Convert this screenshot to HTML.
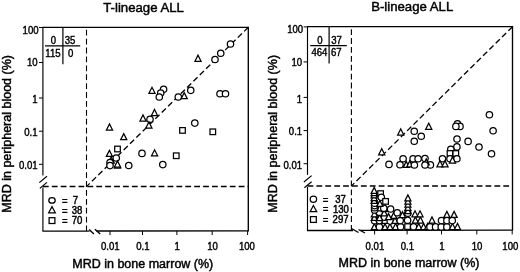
<!DOCTYPE html>
<html lang="en">
<head>
<meta charset="utf-8">
<title>MRD in peripheral blood versus bone marrow</title>
<style>
html,body{margin:0;padding:0;background:#fff;}
body{width:520px;height:272px;overflow:hidden;}
svg{display:block;font-family:"Liberation Sans",sans-serif;}
</style>
</head>
<body>
<svg width="520" height="272" viewBox="0 0 520 272">
<rect width="520" height="272" fill="#fff"/>
<g transform="translate(0 0)">
<g fill="none" stroke="#000" stroke-width="1.2" stroke-linecap="butt">
<path stroke-width="1.35" d="M42.4 27.3H248.3V230.75L96.5 231.0"/>
<path stroke-width="1.15" d="M42.9 175.5V27.3"/>
<path stroke-width="1.15" d="M42.9 187.5V231.05"/>
<path stroke-width="1.35" d="M42.4 231.05H89.5"/>
<path d="M39.3 182.6L47 176.2M39.8 188.4L47 182.4"/>
<path stroke-width="1.4" d="M89.2 229.4L93.9 234M94.9 229.2L100.2 233.9"/>
<path stroke-width="1" d="M110 231.05V235"/>
<path stroke-width="1" d="M142.5 231.05V235"/>
<path stroke-width="1" d="M176.9 231.05V235"/>
<path stroke-width="1" d="M212.2 231.05V235"/>
<path stroke-width="1" d="M247.6 231.05V235"/>
<path stroke-width="1" d="M42.9 164.3H39"/>
<path stroke-width="1" d="M42.9 131.2H39"/>
<path stroke-width="1" d="M42.9 98H39"/>
<path stroke-width="1" d="M42.9 62.5H39"/>
<path stroke-width="1" d="M42.9 27.5H39"/>
<path d="M62.9 27.3V64.2M45 45.8H80.2"/>
</g>
<g fill="none" stroke="#000" stroke-dasharray="5.8 3.1">
<path stroke-width="1.5" d="M42.9 186.6H248.3"/>
<path stroke-width="1.1" d="M86.5 29.8V231.05"/>
<path stroke-width="1.3" d="M248.3 27.3L86.5 186.6"/>
</g>
<g fill="#fff" stroke="#000" stroke-width="1.25">
<circle cx="230.5" cy="44" r="3.2"/>
<circle cx="220.75" cy="53.25" r="3.2"/>
<circle cx="215" cy="59.5" r="3.2"/>
<path d="M194.95 61.25L198 55.25L201.05 61.25Z"/>
<path d="M148.95 93.3L152 87.3L155.05 93.3Z"/>
<circle cx="163.6" cy="89.3" r="3.2"/>
<circle cx="160.7" cy="93" r="3.2"/>
<circle cx="159.3" cy="97" r="3.2"/>
<circle cx="190.75" cy="90.3" r="3.2"/>
<circle cx="178.3" cy="97" r="3.2"/>
<path d="M181.15 98.7L184.2 92.7L187.25 98.7Z"/>
<circle cx="220" cy="93.75" r="3.2"/>
<circle cx="225.5" cy="93.75" r="3.2"/>
<path d="M151.45 115.5L154.5 109.5L157.55 115.5Z"/>
<path d="M139.95 121L143 115L146.05 121Z"/>
<circle cx="150" cy="119.25" r="3.2"/>
<path d="M145.85 128L148.9 122L151.95 128Z"/>
<circle cx="194.8" cy="123.1" r="3.2"/>
<rect x="179.7" y="127.6" width="5.6" height="5.6"/>
<rect x="210" y="129" width="5.6" height="5.6"/>
<path d="M106.45 130L109.5 124L112.55 130Z"/>
<path d="M120.7 139.6L123.75 133.6L126.8 139.6Z"/>
<rect x="114.7" y="146.2" width="5.6" height="5.6"/>
<path d="M106.35 156.4L109.4 150.4L112.45 156.4Z"/>
<circle cx="116.25" cy="158" r="3.2"/>
<path d="M108.2 163L111.25 157L114.3 163Z"/>
<circle cx="110" cy="162.5" r="3.2"/>
<circle cx="110" cy="165.6" r="3.2"/>
<path d="M114.45 168L117.5 162L120.55 168Z"/>
<path d="M114.45 167L117.5 161L120.55 167Z"/>
<circle cx="128.75" cy="165.5" r="3.2"/>
<circle cx="142" cy="153.4" r="3.2"/>
<path d="M151.55 155.8L154.6 149.8L157.65 155.8Z"/>
<circle cx="162.8" cy="164.6" r="3.2"/>
<rect x="173.45" y="152.95" width="5.6" height="5.6"/>
</g>
<g fill="#fff" stroke="#000" stroke-width="1.25">
<ellipse cx="52" cy="200.4" rx="3.2" ry="2.75"/>
<path d="M48.7 212.8L52 206.6L55.3 212.8Z"/>
<rect x="49.1" y="217.7" width="5.8" height="5.8"/>
</g>
<g font-size="10.1" fill="#000" stroke="#000" stroke-width="0.4">
<text transform="translate(110.3 249.7) scale(0.95 1)" text-anchor="middle">0.01</text>
<text transform="translate(142.8 249.7) scale(0.95 1)" text-anchor="middle">0.1</text>
<text transform="translate(177.2 249.7) scale(0.95 1)" text-anchor="middle">1</text>
<text transform="translate(212.5 249.7) scale(0.95 1)" text-anchor="middle">10</text>
<text transform="translate(246.9 249.7) scale(0.95 1)" text-anchor="middle">100</text>
<text transform="translate(37.6 169.3) scale(0.95 1)" text-anchor="end">0.01</text>
<text transform="translate(37.6 136) scale(0.95 1)" text-anchor="end">0.1</text>
<text transform="translate(37.6 103.2) scale(0.95 1)" text-anchor="end">1</text>
<text transform="translate(37.6 66.1) scale(0.95 1)" text-anchor="end">10</text>
<text transform="translate(38.6 33.5) scale(0.95 1)" text-anchor="end">100</text>
<text transform="translate(53.4 43.9) scale(0.95 1)" text-anchor="middle">0</text>
<text transform="translate(70.1 43.9) scale(0.95 1)" text-anchor="middle">35</text>
<text transform="translate(52.9 56.6) scale(0.95 1)" text-anchor="middle">115</text>
<text transform="translate(70.7 56.6) scale(0.95 1)" text-anchor="middle">0</text>
<text transform="translate(61.9 204.8) scale(0.95 1)" text-anchor="start" stroke-width="0.45">=</text>
<text transform="translate(78.2 204) scale(0.95 1)" text-anchor="end" stroke-width="0.45">7</text>
<text transform="translate(61.9 214.7) scale(0.95 1)" text-anchor="start" stroke-width="0.45">=</text>
<text transform="translate(82.4 213.9) scale(0.95 1)" text-anchor="end" stroke-width="0.45">38</text>
<text transform="translate(61.9 224.8) scale(0.95 1)" text-anchor="start" stroke-width="0.45">=</text>
<text transform="translate(82.4 224) scale(0.95 1)" text-anchor="end" stroke-width="0.45">70</text>
</g>
<g font-size="12.5" fill="#000" stroke="#000" stroke-width="0.45">
<text x="143.6" y="11.7" text-anchor="middle" font-size="13.2">T-lineage ALL</text>
<text x="142.8" y="267.8" text-anchor="middle">MRD in bone marrow (%)</text>
<text transform="translate(11.2 133.9) rotate(-90)" text-anchor="middle">MRD in peripheral blood (%)</text>
</g>
</g>
<g transform="translate(264.6 -0.6)">
<g fill="none" stroke="#000" stroke-width="1.2" stroke-linecap="butt">
<path stroke-width="1.35" d="M42.4 27.3H247.9V230.75L95.4 231.0"/>
<path stroke-width="1.15" d="M42.9 175.5V27.3"/>
<path stroke-width="1.15" d="M42.9 187.5V231.05"/>
<path stroke-width="1.35" d="M42.4 231.05H88.4"/>
<path d="M39.3 182.6L47 176.2M39.8 188.4L47 182.4"/>
<path stroke-width="1.4" d="M86.9 229.1L93.9 233.1M93.9 230.1L100.4 233.6"/>
<path stroke-width="1" d="M110 231.05V235"/>
<path stroke-width="1" d="M142.5 231.05V235"/>
<path stroke-width="1" d="M176.9 231.05V235"/>
<path stroke-width="1" d="M212.2 231.05V235"/>
<path stroke-width="1" d="M247.6 231.05V235"/>
<path stroke-width="1" d="M42.9 164.3H39"/>
<path stroke-width="1" d="M42.9 131.2H39"/>
<path stroke-width="1" d="M42.9 98H39"/>
<path stroke-width="1" d="M42.9 62.5H39"/>
<path stroke-width="1" d="M42.9 27.5H39"/>
<path d="M64.5 27.3V64.2M45.6 46.2H82.2"/>
</g>
<g fill="none" stroke="#000" stroke-dasharray="5.8 3.1">
<path stroke-width="1.5" d="M42.9 186.6H247.9"/>
<path stroke-width="1.1" d="M86.8 29.8V231.05"/>
<path stroke-width="1.3" d="M247.9 27.3L86.8 186.6"/>
</g>
<g fill="#fff" stroke="#000" stroke-width="1.25">
<path d="M114.1 155.35L117.15 149.35L120.2 155.35Z"/>
<path d="M133.1 135.6L136.15 129.6L139.2 135.6Z"/>
<path d="M161.1 129.85L164.15 123.85L167.2 129.85Z"/>
<circle cx="149.65" cy="131.85" r="3.2"/>
<circle cx="156.65" cy="136.85" r="3.2"/>
<circle cx="149.65" cy="141.85" r="3.2"/>
<circle cx="224.8" cy="115.3" r="3.2"/>
<circle cx="228.5" cy="131.3" r="3.2"/>
<circle cx="192.9" cy="124.5" r="3.2"/>
<circle cx="195.4" cy="127" r="3.2"/>
<circle cx="191.3" cy="127" r="3.2"/>
<circle cx="192.4" cy="139.6" r="3.2"/>
<circle cx="203.5" cy="142" r="3.2"/>
<circle cx="214.4" cy="147.6" r="3.2"/>
<circle cx="226.9" cy="154.35" r="3.2"/>
<circle cx="192.3" cy="147.5" r="3.2"/>
<circle cx="186.2" cy="149.8" r="3.2"/>
<rect x="182.6" y="151.3" width="5.6" height="5.6"/>
<rect x="188.4" y="151.3" width="5.6" height="5.6"/>
<circle cx="192.3" cy="159.35" r="3.2"/>
<circle cx="185.4" cy="159.35" r="3.2"/>
<path d="M184.85 163.6L187.9 157.6L190.95 163.6Z"/>
<circle cx="177.9" cy="159.35" r="3.2"/>
<path d="M172.35 167.35L175.4 161.35L178.45 167.35Z"/>
<path d="M177.35 167.35L180.4 161.35L183.45 167.35Z"/>
<circle cx="165.8" cy="165.5" r="3.2"/>
<circle cx="124.4" cy="165" r="3.2"/>
<circle cx="138.5" cy="159.35" r="3.2"/>
<circle cx="135.4" cy="165.35" r="3.2"/>
<path d="M138.6 168L141.65 162L144.7 168Z"/>
<path d="M142.1 167.5L145.15 161.5L148.2 167.5Z"/>
<circle cx="149.8" cy="165.6" r="3.2"/>
<circle cx="148.5" cy="159.35" r="3.2"/>
<circle cx="153.5" cy="159.35" r="3.2"/>
<circle cx="160.4" cy="159.1" r="3.2"/>
<path d="M158.6 165.5L161.65 159.5L164.7 165.5Z"/>
<circle cx="160.4" cy="165.6" r="3.2"/>
<path d="M106.75 230.2L109.8 224.2L112.85 230.2Z"/>
<circle cx="114.8" cy="227.5" r="3.2"/>
<path d="M117.35 230.2L120.4 224.2L123.45 230.2Z"/>
<path d="M122.35 230.2L125.4 224.2L128.45 230.2Z"/>
<path d="M127.95 230.1L131 224.1L134.05 230.1Z"/>
<circle cx="136" cy="227.4" r="3.2"/>
<rect x="140.2" y="224.4" width="5.6" height="5.6"/>
<circle cx="149" cy="227.4" r="3.2"/>
<path d="M151.05 230.1L154.1 224.1L157.15 230.1Z"/>
<path d="M155.95 230.1L159 224.1L162.05 230.1Z"/>
<path d="M159.95 230.1L163 224.1L166.05 230.1Z"/>
<circle cx="165.4" cy="227.5" r="3.2"/>
<circle cx="171" cy="227.5" r="3.2"/>
<circle cx="176.65" cy="227.5" r="3.2"/>
<circle cx="182.3" cy="227.5" r="3.2"/>
<path d="M184.85 230.1L187.9 224.1L190.95 230.1Z"/>
<path d="M189.85 230.1L192.9 224.1L195.95 230.1Z"/>
<circle cx="110" cy="221.4" r="3.2"/>
<circle cx="114.8" cy="221.2" r="3.2"/>
<rect x="117.6" y="218.4" width="5.6" height="5.6"/>
<circle cx="125.6" cy="221.7" r="3.2"/>
<path d="M127.35 224L130.4 218L133.45 224Z"/>
<circle cx="135.6" cy="221.2" r="3.2"/>
<circle cx="143" cy="220.8" r="3.2"/>
<path d="M147.75 223.6L150.8 217.6L153.85 223.6Z"/>
<path d="M152.75 223.6L155.8 217.6L158.85 223.6Z"/>
<path d="M164.35 223.6L167.4 217.6L170.45 223.6Z"/>
<circle cx="176.9" cy="221.2" r="3.2"/>
<circle cx="182.3" cy="221.2" r="3.2"/>
<circle cx="187.65" cy="221.2" r="3.2"/>
<path d="M106.75 221L109.8 215L112.85 221Z"/>
<path d="M106.75 217.4L109.8 211.4L112.85 217.4Z"/>
<path d="M111.95 218.4L115 212.4L118.05 218.4Z"/>
<path d="M117.35 219L120.4 213L123.45 219Z"/>
<path d="M126.1 219L129.15 213L132.2 219Z"/>
<path d="M134.85 218.2L137.9 212.2L140.95 218.2Z"/>
<circle cx="143.2" cy="213.8" r="3.2"/>
<path d="M147.35 217.4L150.4 211.4L153.45 217.4Z"/>
<path d="M152.35 217.4L155.4 211.4L158.45 217.4Z"/>
<path d="M179.25 218L182.3 212L185.35 218Z"/>
<path d="M186.45 218L189.5 212L192.55 218Z"/>
<circle cx="120" cy="217.8" r="3.2"/>
<path d="M111.95 221.2L115 215.2L118.05 221.2Z"/>
<circle cx="114.8" cy="212.8" r="3.2"/>
<path d="M116.55 216.4L119.6 210.4L122.65 216.4Z"/>
<path d="M120.95 220.2L124 214.2L127.05 220.2Z"/>
<path d="M112.35 211.4L115.4 205.4L118.45 211.4Z"/>
<path d="M116.75 212.2L119.8 206.2L122.85 212.2Z"/>
<circle cx="110" cy="210.6" r="3.2"/>
<circle cx="110" cy="208.4" r="3.2"/>
<circle cx="110" cy="206.2" r="3.2"/>
<circle cx="110" cy="203.8" r="3.2"/>
<circle cx="119.2" cy="208.8" r="3.2"/>
<circle cx="126" cy="209.6" r="3.2"/>
<circle cx="132.65" cy="213.4" r="3.2"/>
<path d="M112.25 207L115.3 201L118.35 207Z"/>
<rect x="113.2" y="191.4" width="5.6" height="5.6"/>
<circle cx="116.7" cy="197.9" r="3.2"/>
<rect x="118.2" y="199.2" width="5.6" height="5.6"/>
<path d="M106.55 204L109.6 198L112.65 204Z"/>
<path d="M106.55 201.2L109.6 195.2L112.65 201.2Z"/>
<path d="M106.55 198.4L109.6 192.4L112.65 198.4Z"/>
<path d="M106.55 196.2L109.6 190.2L112.65 196.2Z"/>
<path d="M106.55 194L109.6 188L112.65 194Z"/>
<path d="M140.25 214.2L143.3 208.2L146.35 214.2Z"/>
<path d="M140.25 211L143.3 205L146.35 211Z"/>
<path d="M140.25 207.8L143.3 201.8L146.35 207.8Z"/>
<path d="M140.25 204.8L143.3 198.8L146.35 204.8Z"/>
<path d="M140.25 201.5L143.3 195.5L146.35 201.5Z"/>
</g>
<g fill="#fff" stroke="#000" stroke-width="1.25">
<ellipse cx="48.8" cy="199.9" rx="3.2" ry="3.1"/>
<path d="M45.5 212.3L48.8 206.1L52.1 212.3Z"/>
<rect x="45.9" y="217.2" width="5.8" height="5.8"/>
</g>
<g font-size="10.1" fill="#000" stroke="#000" stroke-width="0.4">
<text transform="translate(110.3 250.2) scale(0.95 1)" text-anchor="middle">0.01</text>
<text transform="translate(142.8 250.2) scale(0.95 1)" text-anchor="middle">0.1</text>
<text transform="translate(177.2 250.2) scale(0.95 1)" text-anchor="middle">1</text>
<text transform="translate(212.5 250.2) scale(0.95 1)" text-anchor="middle">10</text>
<text transform="translate(245.7 250.2) scale(0.95 1)" text-anchor="middle">100</text>
<text transform="translate(37.6 169.3) scale(0.95 1)" text-anchor="end">0.01</text>
<text transform="translate(37.6 136) scale(0.95 1)" text-anchor="end">0.1</text>
<text transform="translate(37.6 103.2) scale(0.95 1)" text-anchor="end">1</text>
<text transform="translate(37.6 66.1) scale(0.95 1)" text-anchor="end">10</text>
<text transform="translate(38.6 33.5) scale(0.95 1)" text-anchor="end">100</text>
<text transform="translate(55.2 44.6) scale(0.95 1)" text-anchor="middle">0</text>
<text transform="translate(72 44.6) scale(0.95 1)" text-anchor="middle">37</text>
<text transform="translate(54.8 56.9) scale(0.95 1)" text-anchor="middle">464</text>
<text transform="translate(71.7 56.9) scale(0.95 1)" text-anchor="middle">67</text>
<text transform="translate(58.2 204.4) scale(0.95 1)" text-anchor="start" stroke-width="0.45">=</text>
<text transform="translate(81.3 203.6) scale(0.95 1)" text-anchor="end" stroke-width="0.45">37</text>
<text transform="translate(58.2 213.9) scale(0.95 1)" text-anchor="start" stroke-width="0.45">=</text>
<text transform="translate(84.3 213.1) scale(0.95 1)" text-anchor="end" stroke-width="0.45">130</text>
<text transform="translate(58.2 224.4) scale(0.95 1)" text-anchor="start" stroke-width="0.45">=</text>
<text transform="translate(84 223.6) scale(0.95 1)" text-anchor="end" stroke-width="0.45">297</text>
</g>
<g font-size="12.5" fill="#000" stroke="#000" stroke-width="0.45">
<text x="147.6" y="11.7" text-anchor="middle" font-size="13.2">B-lineage ALL</text>
<text x="144.4" y="267.3" text-anchor="middle">MRD in bone marrow (%)</text>
<text transform="translate(12.6 134.4) rotate(-90)" text-anchor="middle">MRD in peripheral blood (%)</text>
</g>
</g>
</svg>
</body>
</html>
